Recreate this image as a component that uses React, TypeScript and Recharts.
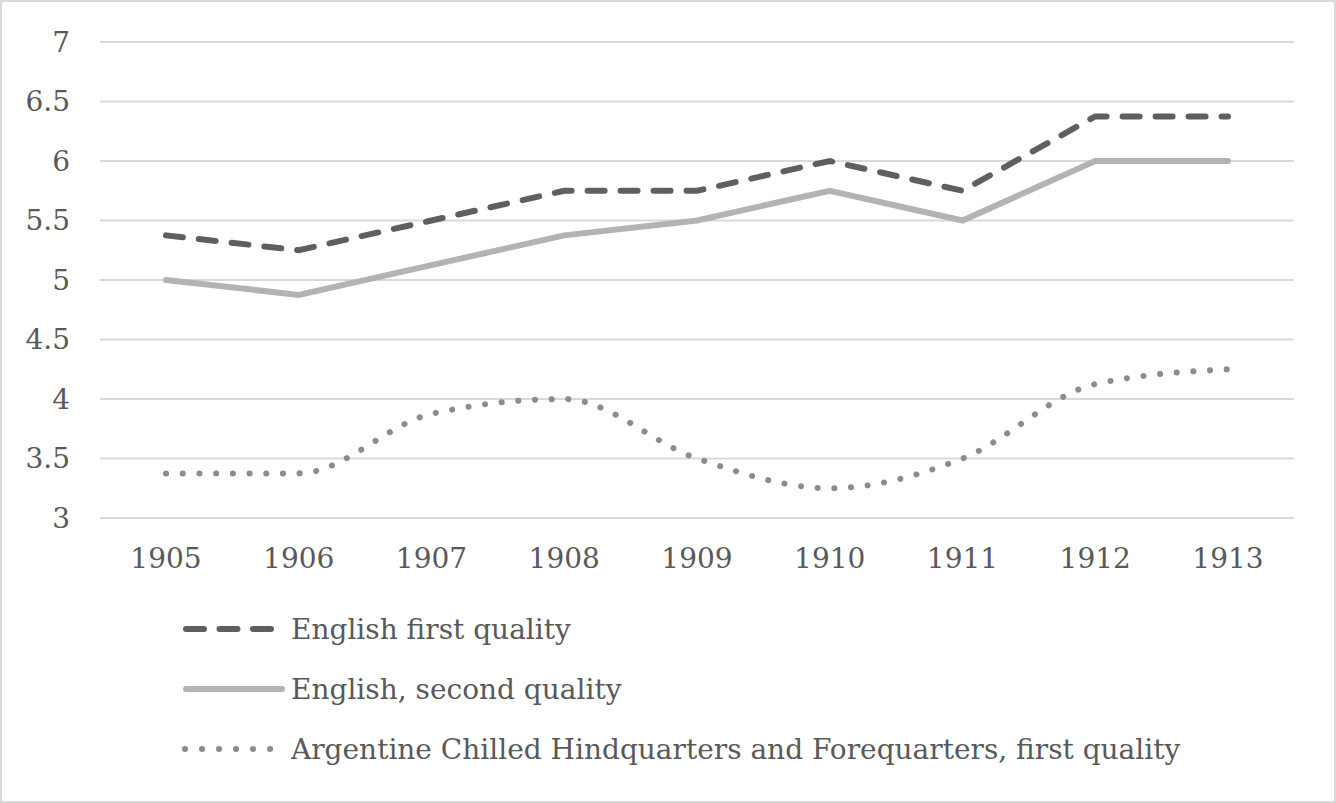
import React from "react";
import { LineChart, Line, XAxis, YAxis, CartesianGrid, Legend } from "recharts";

const years = ["1905", "1906", "1907", "1908", "1909", "1910", "1911", "1912", "1913"];
const englishFirst = [5.375, 5.25, 5.5, 5.75, 5.75, 6.0, 5.75, 6.375, 6.375];
const englishSecond = [5.0, 4.875, 5.125, 5.375, 5.5, 5.75, 5.5, 6.0, 6.0];
const argentine = [3.375, 3.375, 3.875, 4.0, 3.5, 3.25, 3.5, 4.125, 4.25];
const yTicks = [3, 3.5, 4, 4.5, 5, 5.5, 6, 6.5, 7];

const seriesNames = [
  "English first quality",
  "English, second quality",
  "Argentine Chilled Hindquarters and Forequarters, first quality",
];

const data = years.map((y, i) => ({
  year: y,
  first: englishFirst[i],
  second: englishSecond[i],
  arg: argentine[i],
}));

const FONT = "'DejaVu Serif', serif";
const TEXT = "#595959";
const FS = 28;

const LegendContent = () => {
  const rows = [
    { name: seriesNames[0], stroke: "#5f5f5f", dash: "18 15.5", x1: 6, x2: 92 },
    { name: seriesNames[1], stroke: "#b3b3b3", dash: undefined, x1: 6, x2: 102 },
    { name: seriesNames[2], stroke: "#8c8c8c", dash: "0.1 16.9", x1: 5, x2: 91 },
  ];
  return (
    <div style={{ fontFamily: FONT, color: TEXT, fontSize: FS }}>
      {rows.map((r, i) => (
        <div key={i} style={{ display: "flex", alignItems: "center", height: 60 }}>
          <svg width={111} height={20}>
            <line
              x1={r.x1}
              y1={10}
              x2={r.x2}
              y2={10}
              stroke={r.stroke}
              strokeWidth={6}
              strokeLinecap="round"
              strokeDasharray={r.dash}
            />
          </svg>
          <span style={{ whiteSpace: "nowrap" }}>{r.name}</span>
        </div>
      ))}
    </div>
  );
};

export default function App() {
  return (
    <div
      style={{
        position: "absolute",
        left: 0,
        top: 0,
        width: 1336,
        height: 803,
        boxSizing: "border-box",
        border: "2px solid #d9d9d9",
        background: "#fff",
      }}
    >
      <div style={{ position: "absolute", left: -2, top: -2 }}>
        <LineChart
          width={1336}
          height={803}
          data={data}
          margin={{ top: 42, right: 42, bottom: 285 - 70, left: 0 }}
        >
          <CartesianGrid vertical={false} stroke="#d9d9d9" strokeWidth={2} />
          <XAxis
            dataKey="year"
            axisLine={false}
            tickLine={false}
            tickSize={0}
            tickMargin={30}
            height={70}
            padding={{ left: 66, right: 66 }}
            tick={{ fill: TEXT, fontSize: FS, fontFamily: FONT }}
            interval={0}
          />
          <YAxis
            type="number"
            domain={[3, 7]}
            ticks={yTicks}
            interval={0}
            axisLine={false}
            tickLine={false}
            tickSize={0}
            tickMargin={30}
            width={100}
            tick={{ fill: TEXT, fontSize: FS, fontFamily: FONT }}
          />
          <Legend
            layout="vertical"
            align="center"
            verticalAlign="middle"
            content={<LegendContent />}
            wrapperStyle={{ position: "absolute", left: 180, top: 599, width: "auto", height: "auto" }}
          />
          <Line
            type="linear"
            dataKey="first"
            name={seriesNames[0]}
            stroke="#5f5f5f"
            strokeWidth={6}
            strokeDasharray="17 16"
            strokeLinecap="round"
            dot={false}
            isAnimationActive={false}
          />
          <Line
            type="linear"
            dataKey="second"
            name={seriesNames[1]}
            stroke="#b3b3b3"
            strokeWidth={6}
            strokeLinecap="round"
            dot={false}
            isAnimationActive={false}
          />
          <Line
            type="monotone"
            dataKey="arg"
            name={seriesNames[2]}
            stroke="#8c8c8c"
            strokeWidth={6}
            strokeDasharray="0.1 16.6"
            strokeLinecap="round"
            dot={false}
            isAnimationActive={false}
          />
        </LineChart>
      </div>
    </div>
  );
}
